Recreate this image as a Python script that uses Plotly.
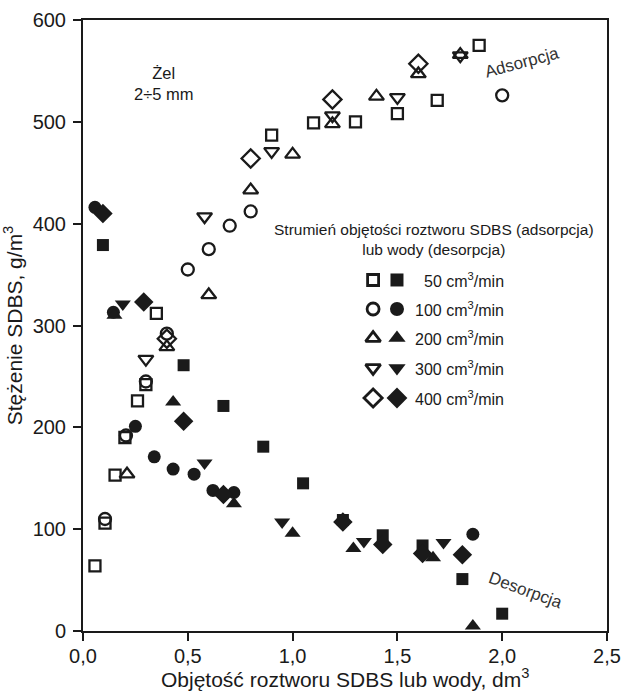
import plotly.graph_objects as go

# ---- data: adsorption (open markers) ----
ads_50_x = [0.057, 0.105, 0.153, 0.20, 0.26, 0.30, 0.35, 0.90, 1.10, 1.30, 1.50, 1.69, 1.89]
ads_50_y = [64, 106, 153, 190, 226, 242, 312, 487, 499, 500, 508, 521, 575]
ads_100_x = [0.105, 0.205, 0.30, 0.40, 0.50, 0.60, 0.70, 0.80, 2.00]
ads_100_y = [110, 192, 245, 292, 355, 375, 398, 412, 526]
ads_200_x = [0.21, 0.40, 0.60, 0.80, 1.00, 1.19, 1.40, 1.60, 1.80]
ads_200_y = [154, 279, 330, 433, 468, 498, 525, 547, 566]
ads_300_x = [0.30, 0.58, 0.90, 1.19, 1.50, 1.80]
ads_300_y = [267, 407, 471, 506, 524, 565]
ads_400_x = [0.40, 0.80, 1.19, 1.60]
ads_400_y = [287, 464, 522, 557]

# ---- data: desorption (filled markers) ----
des_50_x = [0.095, 0.48, 0.67, 0.86, 1.05, 1.24, 1.43, 1.62, 1.81, 2.00]
des_50_y = [379, 261, 221, 181, 145, 109, 94, 84, 51, 17]
des_100_x = [0.057, 0.145, 0.25, 0.34, 0.43, 0.53, 0.62, 0.72, 1.24, 1.86]
des_100_y = [416, 313, 201, 171, 159, 154, 138, 136, 108, 95]
des_200_x = [0.15, 0.43, 0.72, 1.00, 1.29, 1.67, 1.86]
des_200_y = [310, 225, 125, 96, 81, 72, 5]
des_300_x = [0.19, 0.58, 0.95, 1.34, 1.72]
des_300_y = [321, 165, 107, 88, 87]
des_400_x = [0.095, 0.29, 0.48, 0.67, 1.24, 1.43, 1.62, 1.81]
des_400_y = [410, 323, 206, 134, 107, 85, 76, 75]

flow_labels = ["50 cm<sup>3</sup>/min", "100 cm<sup>3</sup>/min", "200 cm<sup>3</sup>/min",
               "300 cm<sup>3</sup>/min", "400 cm<sup>3</sup>/min"]
symbols = ["square", "circle", "triangle-up", "triangle-down", "diamond"]
sizes = [12, 13, 14, 14, 15]

x_ticks = [0.0, 0.5, 1.0, 1.5, 2.0, 2.5]
y_ticks = [0, 100, 200, 300, 400, 500, 600]

# legend layout (data coordinates)
leg_open_x = 1.384
leg_fill_x = 1.498
leg_text_x = 1.574
leg_rows_y = [344.7, 316.2, 287.7, 258.3, 228.8]

FONT = "Liberation Sans, Arial, sans-serif"
INK = "#1a1a1a"

ads = [(ads_50_x, ads_50_y), (ads_100_x, ads_100_y), (ads_200_x, ads_200_y),
       (ads_300_x, ads_300_y), (ads_400_x, ads_400_y)]
des = [(des_50_x, des_50_y), (des_100_x, des_100_y), (des_200_x, des_200_y),
       (des_300_x, des_300_y), (des_400_x, des_400_y)]

fig = go.Figure()
for i, (xs, ys) in enumerate(des):
    fig.add_trace(go.Scatter(x=xs, y=ys, mode="markers", showlegend=False, cliponaxis=False,
                             marker=dict(symbol=symbols[i], size=sizes[i], color=INK,
                                         line=dict(width=0))))
for i, (xs, ys) in enumerate(ads):
    fig.add_trace(go.Scatter(x=xs, y=ys, mode="markers", showlegend=False,
                             marker=dict(symbol=symbols[i] + "-open", size=sizes[i] - 1,
                                         color=INK, line=dict(width=2.3, color=INK))))

# custom legend
for i in range(5):
    fig.add_trace(go.Scatter(x=[leg_open_x], y=[leg_rows_y[i]], mode="markers", showlegend=False,
                             marker=dict(symbol=symbols[i] + "-open", size=sizes[i] - 1,
                                         color=INK, line=dict(width=2.8, color=INK))))
    fig.add_trace(go.Scatter(x=[leg_fill_x], y=[leg_rows_y[i]], mode="markers", showlegend=False,
                             marker=dict(symbol=symbols[i], size=sizes[i] + 1, color=INK)))
    fig.add_annotation(x=leg_text_x + (0.045 if i == 0 else 0), y=leg_rows_y[i], text=flow_labels[i],
                       showarrow=False, xanchor="left", yanchor="middle",
                       font=dict(family=FONT, size=16, color=INK))

fig.add_annotation(x=1.675, y=384, text="Strumień objętości roztworu SDBS (adsorpcja)<br>lub wody (desorpcja)",
                   showarrow=False, xanchor="center", yanchor="middle", align="center",
                   font=dict(family=FONT, size=15.5, color=INK))
fig.add_annotation(x=0.385, y=538, text="Żel<br>2÷5 mm", showarrow=False, align="center",
                   xanchor="center", yanchor="middle",
                   font=dict(family=FONT, size=16.5, color=INK))
fig.add_annotation(x=2.094, y=558, text="Adsorpcja", showarrow=False, textangle=-15,
                   font=dict(family=FONT, size=17, color="#333333"))
fig.add_annotation(x=2.113, y=40, text="Desorpcja", showarrow=False, textangle=20,
                   font=dict(family=FONT, size=17, color="#333333"))

# x-axis title placed as annotation under the tick labels
fig.add_annotation(xref="paper", yref="paper", x=0.5, y=0, yshift=-47,
                   text="Objętość roztworu SDBS lub wody, dm<sup>3</sup>",
                   showarrow=False, xanchor="center", yanchor="middle",
                   font=dict(family=FONT, size=21, color=INK))

axis_common = dict(showline=True, linecolor=INK, linewidth=2, mirror=True,
                   ticks="outside", ticklen=8, tickwidth=2, tickcolor=INK,
                   showgrid=False, zeroline=False, automargin=False,
                   tickfont=dict(family=FONT, size=20, color=INK))

fig.update_layout(
    width=622, height=696,
    margin=dict(l=83, r=15, t=20, b=65),
    paper_bgcolor="white", plot_bgcolor="white",
    separators=", ",
    xaxis=dict(range=[0, 2.5], tickvals=x_ticks, tickformat=".1f", ticklabelstandoff=-2,
               **axis_common),
    yaxis=dict(range=[0, 600], tickvals=y_ticks, ticklabelstandoff=3,
               title=dict(text="Stężenie SDBS, g/m<sup>3</sup>",
                          font=dict(family=FONT, size=21, color=INK), standoff=6),
               **axis_common),
)

fig.write_html("out.html")
